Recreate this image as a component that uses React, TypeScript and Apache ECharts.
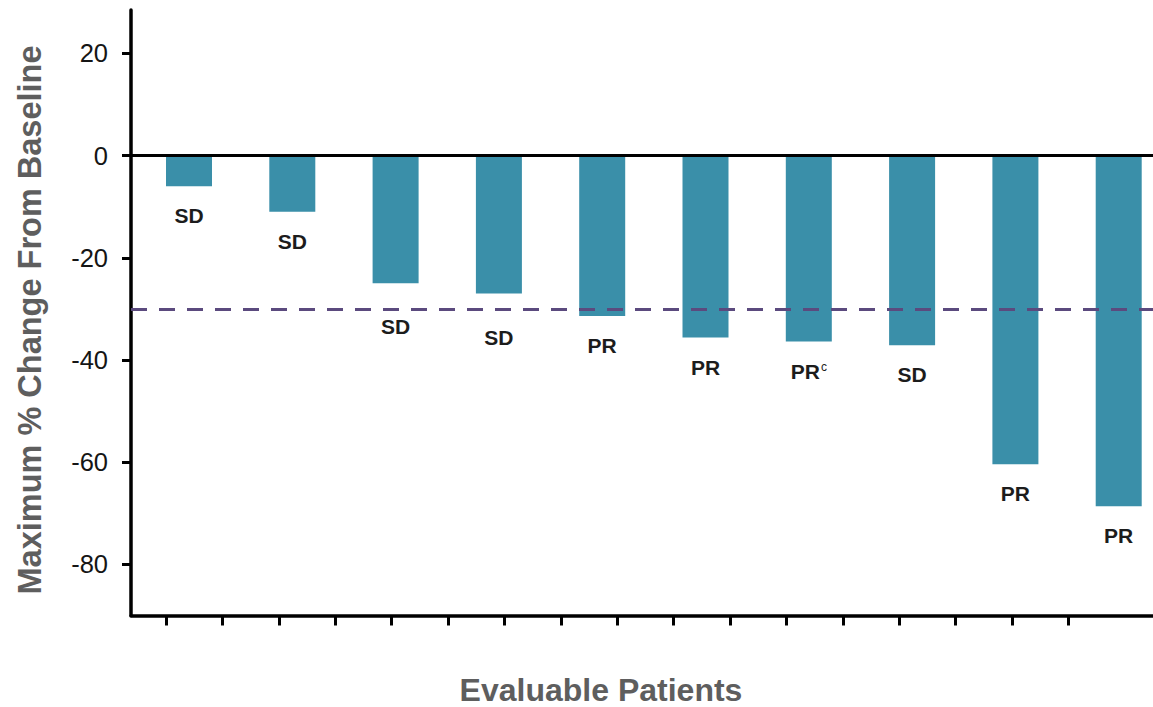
import React, { useEffect, useRef } from 'react';
import * as echarts from 'echarts';

const patients = ['1', '2', '3', '4', '5', '6', '7', '8', '9', '10'];
const changes = [-6, -11, -25, -27, -31.4, -35.6, -36.4, -37.1, -60.4, -68.6];
const responses = ['SD', 'SD', 'SD', 'SD', 'PR', 'PR', 'PR', 'SD', 'PR', 'PR'];
const footnotes = ['', '', '', '', '', '', 'c', '', '', ''];
const yTickValues = [-80, -60, -40, -20, 0, 20];
const xTickValues = [1, 2, 3, 4, 5, 6, 7, 8, 9, 10, 11, 12, 13, 14, 15, 16, 17];
const thresholdValue = -30;
const yTitle = 'Maximum % Change From Baseline';
const xTitle = 'Evaluable Patients';

const FONT = '"Liberation Sans", Arial, Helvetica, sans-serif';

export default function App() {
  const ref = useRef<HTMLDivElement>(null);

  useEffect(() => {
    if (!ref.current) return;
    const chart = echarts.init(ref.current, null, { renderer: 'svg' });
    chart.setOption({
      animation: false,
      backgroundColor: '#ffffff',
      grid: { left: 131, right: 0, top: 10, bottom: 91.5, containLabel: false },
      xAxis: [
        {
          type: 'value',
          min: -0.5615,
          max: 9.332,
          show: false,
        },
        {
          type: 'value',
          position: 'bottom',
          min: 0.379,
          max: 18.5,
          axisLine: { show: true, onZero: false, lineStyle: { color: '#000', width: 3.5 } },
          axisTick: {
            show: true,
            customValues: xTickValues,
            length: 10,
            lineStyle: { color: '#000', width: 3 },
          },
          axisLabel: { show: false },
          splitLine: { show: false },
        },
      ],
      yAxis: {
        type: 'value',
        min: -90,
        max: 28.5,
        axisLine: { show: true, onZero: false, lineStyle: { color: '#000', width: 3.5 } },
        axisTick: {
          show: true,
          customValues: yTickValues,
          length: 9,
          lineStyle: { color: '#000', width: 3 },
        },
        axisLabel: {
          customValues: yTickValues,
          fontSize: 25.5,
          color: '#151515',
          margin: 23,
          fontFamily: FONT,
        },
        splitLine: { show: false },
      },
      graphic: [
        {
          type: 'text',
          x: 30,
          y: 320,
          rotation: Math.PI / 2,
          style: {
            text: yTitle,
            fontSize: 32.5,
            fontWeight: 'bold',
            fontFamily: FONT,
            fill: '#5e5e5e',
            align: 'center',
            verticalAlign: 'middle',
          },
        },
        {
          type: 'text',
          x: 601,
          y: 690,
          style: {
            text: xTitle,
            fontSize: 32,
            fontWeight: 'bold',
            fontFamily: FONT,
            fill: '#5e5e5e',
            align: 'center',
            verticalAlign: 'middle',
          },
        },
      ],
      series: [
        {
          type: 'bar',
          name: 'change',
          xAxisIndex: 0,
          yAxisIndex: 0,
          barWidth: 46,
          data: changes.map((v, i) => {
            const nearThreshold = v > thresholdValue && v < thresholdValue + 8;
            return {
              value: [i, v],
              name: patients[i],
              label: nearThreshold ? { distance: 33 } : undefined,
            };
          }),
          itemStyle: { color: '#3a8fa9' },
          label: {
            show: true,
            position: 'bottom',
            distance: 19,
            formatter: (p: any) => {
              const i = p.dataIndex;
              return footnotes[i]
                ? `{r|${responses[i]}}{s|${footnotes[i]}}`
                : `{r|${responses[i]}}`;
            },
            rich: {
              r: { fontSize: 21, fontWeight: 'bold', color: '#1c1c1c', fontFamily: FONT },
              s: { fontSize: 12, color: '#1c1c1c', fontFamily: FONT, verticalAlign: 'top', padding: [0, 0, 10, 1] },
            },
          },
          markLine: {
            silent: true,
            symbol: ['none', 'none'],
            label: { show: false },
            data: [
              { yAxis: 0, lineStyle: { type: 'solid', color: '#000', width: 3 } },
              { yAxis: thresholdValue, lineStyle: { type: [16, 12], color: '#5b4a7e', width: 3 } },
            ],
          },
        },
      ],
    });
    return () => chart.dispose();
  }, []);

  return (
    <div
      ref={ref}
      style={{ position: 'fixed', left: 0, top: 0, width: 1153, height: 707, background: '#fff' }}
    />
  );
}
